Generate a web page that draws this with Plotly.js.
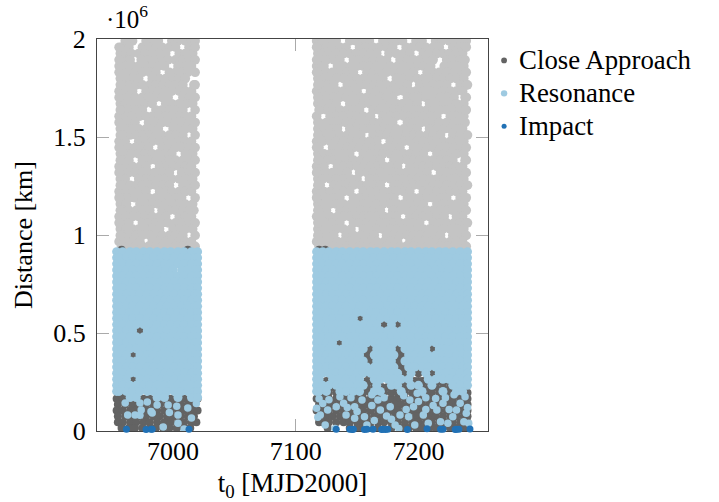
<!DOCTYPE html>
<html><head><meta charset="utf-8">
<script src="https://cdn.plot.ly/plotly-3.0.0.min.js"></script>
<style>html,body{margin:0;padding:0;background:#fff}</style></head>
<body><div id="chart" style="width:719px;height:502px"></div>
<script>
// Values. The dense clouds cannot be read point by point,
// so interior points are approximations of local density; the sparse low points and impacts are read individually.
// Each row: [distance in 10^6 km, t0, t0, ...]
const outsideRows = [
[1.99,6961,6967,6978,6983,6988,6999,7004,7010,7015,7018,7117,7122,7128,7133,7144,7149,7155,7160,7171,7176,7182,7187,7198,7203,7214,7219,7225,7230,7235,7239],
[1.958,6958,6964,6975,6980,6986,6991,6997,7002,7013,7017,7119,7125,7130,7136,7141,7152,7157,7163,7168,7174,7179,7190,7195,7201,7206,7212,7217,7228,7233,7238],
[1.926,6957,6962,6966,6972,6977,6983,6989,6994,7005,7010,7016,7118,7122,7127,7133,7139,7144,7149,7155,7161,7166,7176,7182,7188,7193,7204,7209,7215,7220,7225,7231,7236],
[1.894,6959,6965,6974,6980,6985,6991,6996,7002,7008,7013,7018,7120,7125,7131,7136,7147,7152,7158,7163,7169,7174,7185,7191,7196,7201,7207,7212,7223,7228,7234,7238],
[1.862,6956,6961,6967,6972,6978,6983,6988,6993,7004,7010,7015,7117,7123,7134,7139,7145,7150,7155,7160,7166,7172,7177,7183,7188,7193,7199,7204,7210,7221,7226,7231,7237],
[1.83,6958,6964,6969,6975,6981,6986,6997,7002,7007,7012,7018,7119,7125,7130,7136,7142,7147,7158,7163,7168,7174,7180,7185,7190,7196,7207,7212,7217,7223,7229,7234,7239],
[1.798,6957,6962,6967,6972,6983,6989,6994,7000,7005,7010,7118,7123,7128,7133,7139,7145,7150,7155,7161,7166,7171,7182,7188,7193,7199,7204,7209,7215,7220,7226,7231,7237],
[1.766,6959,6965,6970,6975,6981,6986,6992,6997,7002,7008,7017,7120,7126,7131,7142,7147,7153,7158,7164,7169,7174,7180,7185,7191,7201,7207,7212,7218,7223,7234,7239],
[1.734,6956,6962,6967,6978,6983,6988,6994,6999,7005,7010,7015,7117,7123,7128,7134,7139,7144,7150,7161,7166,7172,7177,7183,7188,7193,7198,7204,7209,7215,7220,7226,7231,7236],
[1.702,6958,6964,6969,6975,6980,6986,6991,6996,7008,7013,7018,7120,7125,7131,7136,7141,7147,7153,7158,7163,7169,7174,7179,7191,7196,7201,7206,7212,7218,7223,7229,7239],
[1.67,6957,6961,6966,6972,6977,6983,6994,6999,7005,7011,7016,7118,7122,7128,7133,7144,7150,7155,7160,7166,7171,7177,7182,7187,7193,7199,7209,7215,7221,7226,7231,7237],
[1.638,6959,6964,6970,6975,6986,6991,6997,7002,7008,7018,7120,7125,7130,7136,7142,7147,7152,7163,7168,7174,7180,7185,7190,7196,7201,7207,7212,7218,7223,7228,7234,7239],
[1.606,6956,6962,6967,6973,6978,6983,6989,6994,6999,7005,7010,7015,7117,7128,7133,7139,7145,7150,7155,7161,7171,7177,7182,7188,7193,7198,7204,7210,7215,7226,7231,7237],
[1.574,6958,6964,6969,6980,6985,6991,6996,7002,7007,7013,7017,7119,7125,7131,7136,7141,7147,7152,7158,7164,7169,7174,7179,7191,7196,7202,7207,7212,7217,7223,7229,7234,7238],
[1.542,6957,6962,6967,6972,6978,6983,6988,7000,7005,7010,7016,7118,7123,7128,7134,7144,7150,7156,7161,7166,7172,7177,7182,7188,7194,7199,7209,7215,7221,7226,7231,7236],
[1.51,6959,6965,6970,6975,6981,6986,6991,6997,7002,7008,7018,7120,7125,7131,7136,7142,7147,7153,7163,7169,7174,7180,7185,7190,7196,7201,7207,7212,7218,7228,7234,7239],
[1.478,6956,6961,6972,6978,6983,6989,6994,6999,7004,7010,7015,7117,7122,7128,7133,7139,7145,7150,7155,7160,7166,7177,7183,7188,7193,7199,7204,7210,7215,7220,7226,7232,7237],
[1.446,6958,6964,6969,6975,6980,6991,6996,7002,7007,7013,7017,7119,7130,7136,7142,7147,7152,7158,7163,7168,7174,7180,7185,7196,7202,7207,7212,7218,7223,7229,7234,7239],
[1.414,6957,6962,6966,6972,6977,6983,6988,6994,6999,7010,7016,7118,7123,7128,7133,7139,7144,7155,7161,7166,7171,7177,7182,7188,7193,7198,7204,7215,7221,7226,7231,7237],
[1.382,6959,6964,6975,6981,6986,6991,6997,7002,7008,7013,7018,7120,7126,7131,7136,7141,7147,7153,7158,7164,7169,7180,7185,7191,7196,7201,7207,7212,7218,7223,7228,7239],
[1.35,6956,6962,6967,6973,6978,6989,6994,7000,7005,7010,7015,7117,7123,7134,7139,7144,7150,7156,7161,7166,7172,7177,7183,7193,7199,7204,7209,7215,7220,7226,7231,7236],
[1.318,6958,6964,6969,6975,6980,6985,6991,6997,7007,7013,7018,7119,7125,7130,7136,7142,7152,7158,7163,7169,7174,7179,7185,7190,7196,7202,7207,7218,7223,7229,7234,7239],
[1.286,6957,6961,6972,6978,6983,6988,6994,6999,7005,7010,7016,7118,7122,7128,7133,7139,7145,7150,7160,7166,7171,7177,7182,7188,7194,7199,7204,7210,7215,7221,7226,7231,7237],
[1.254,6959,6965,6970,6975,6981,6986,6992,6997,7008,7013,7017,7120,7131,7136,7141,7147,7153,7158,7164,7169,7180,7185,7190,7196,7201,7207,7212,7217,7223,7228,7234,7239],
[1.222,6956,6962,6967,6972,6978,6989,6994,6999,7005,7010,7015,7117,7123,7128,7134,7139,7144,7155,7161,7166,7172,7177,7182,7188,7193,7204,7209,7215,7220,7226,7231,7236],
[1.19,6958,6964,6969,6975,6980,6986,6991,6997,7002,7007,7018,7119,7125,7130,7136,7147,7152,7158,7163,7168,7174,7180,7191,7196,7201,7207,7212,7218,7223,7234,7239],
[1.158,6957,6962,6973,6978,6983,6988,6994,7000,7005,7010,7016,7118,7123,7128,7133,7139,7145,7150,7155,7161,7166,7171,7177,7183,7188,7193,7199,7204,7215,7220,7226,7231,7237],
[1.126,6959,6964,6970,6975,6981,6991,6997,7002,7008,7013,7017,7120,7125,7136,7141,7147,7153,7158,7163,7169,7179,7185,7190,7196,7202,7207,7212,7218,7223,7228,7234,7239],
[1.094,6956,6961,6967,6972,6977,6983,6989,6994,7005,7010,7015,7117,7122,7128,7134,7139,7144,7150,7155,7160,7166,7172,7177,7182,7193,7198,7204,7209,7215,7221,7231,7236],
[1.062,6958,6964,6975,6980,6986,6991,6996,7002,7007,7013,7018,7119,7125,7130,7136,7147,7152,7158,7163,7169,7174,7180,7185,7190,7196,7201,7212,7218,7223,7229,7234,7239],
[1.03,6957,6962,6967,6972,6978,6983,6989,7000,7005,7010,7016,7118,7123,7128,7133,7139,7145,7155,7161,7166,7171,7177,7182,7188,7193,7199,7204,7209,7215,7220,7226,7231,7237],
[0.998,6959,6965,6970,6975,6981,6986,6991,6997,7002,7008,7018,7120,7125,7131,7141,7147,7153,7158,7164,7174,7180,7185,7191,7196,7201,7207,7212,7218,7228,7234,7239],
[0.966,6956,6962,6967,6973,6983,6988,6994,6999,7005,7010,7015,7117,7123,7128,7134,7139,7144,7150,7156,7161,7166,7172,7177,7183,7193,7198,7204,7210,7215,7220,7226,7231,7236],
[0.942,6958,6964,6969,6975,6980,6986,6991,6996,7002,7007,7013,7018,7119,7125,7130,7136,7142,7147,7152,7158,7163,7168,7174,7180,7185,7190,7196,7202,7207,7212,7218,7223,7229,7234,7239],
[1.958,6956,7018,7117,7239],[1.894,6956,7117],[1.83,6956,7117],[1.766,6957,7018,7118,7240],[1.702,6956,7118,7238],[1.638,6957,7119,7238],[1.574,6956,7018,7118],[1.51,6957,7118,7240],[1.446,6956,7018,7117],[1.382,6957,7118,7238],[1.318,6956,7117],[1.254,6957,7018,7118,7240],[1.19,6956,7117,7238],[1.126,6957,7118],[1.062,6956,7118,7240],[0.998,6957,7118]
];
const closeRows = [
[0.165,6954,6959,6965,6970,6976,6981,6987,6993,6998,7004,7009,7015,7020,7117,7122,7127,7133,7139,7144,7150,7155,7161,7167,7172,7178,7183,7189,7195,7200,7206,7211,7217,7223,7228,7234,7240],
[0.135,6955,6961,6967,6972,6978,6984,6989,6995,7000,7006,7012,7017,7119,7125,7130,7136,7142,7147,7153,7158,7164,7170,7175,7181,7186,7192,7198,7203,7209,7214,7220,7226,7231,7237,7240],
[0.105,6954,6959,6965,6970,6976,6981,6987,6993,6998,7004,7009,7015,7020,7117,7122,7127,7133,7139,7144,7150,7155,7161,7167,7172,7178,7183,7189,7195,7200,7206,7211,7217,7223,7228,7234,7240],
[0.075,6955,6961,6967,6972,6978,6984,6989,6995,7000,7006,7012,7017,7119,7125,7130,7136,7142,7147,7153,7158,7164,7170,7175,7181,7186,7192,7198,7203,7209,7214,7220,7226,7231,7237,7240],
[0.045,6955,6959,6965,6970,6976,6981,6987,6993,6998,7004,7009,7015,7019,7119,7122,7127,7133,7139,7144,7150,7155,7161,7167,7172,7178,7183,7189,7195,7200,7206,7211,7217,7223,7228,7234,7240],
[0.015,6958,6964,6969,6975,6981,6986,6992,6997,7003,7009,7014,7126,7144,7150,7155,7161,7167,7178,7186,7192,7198,7203,7209,7214,7220,7226,7231,7237,7240],
[0.195,6955,6961,7018,7118,7122,7127,7133,7139,7144,7150,7155,7161,7167,7172,7178,7183,7189,7195,7200,7206,7211,7217,7223,7228,7234,7240],
[0.225,7119,7125,7130,7136,7142,7147,7153,7158,7164,7170,7175,7181,7186,7192,7198,7203,7209,7214,7220,7226,7231,7237],
[0.255,7125,7158,7161,7189,7197,7200,7203,7206,7211,7217,7222],
[0.295,7158,7189,7200,7211],
[0.326,7186],[0.357,7161,7183],[0.388,7158,7186,6967],[0.419,7161,7183,7211],
[0.45,7136],[0.512,6973],[0.543,7172,7183],[0.574,7152],
[0.925,6958,7012,7119,7124],[0.822,6997],[0.264,6967]
];
const resonanceRows = [
[0.915,6954,6959,6965,6970,6976,6981,6987,6993,6998,7004,7009,7015,7020,7117,7122,7127,7133,7138,7144,7150,7155,7161,7166,7172,7178,7183,7189,7194,7200,7206,7211,7217,7222,7228,7234,7240],
[0.884,6954,6956,6962,6967,6973,6979,6984,6990,6995,7001,7007,7012,7018,7020,7117,7119,7125,7130,7136,7141,7147,7152,7158,7164,7169,7175,7180,7186,7192,7197,7203,7208,7214,7220,7225,7231,7236,7240],
[0.853,6954,6959,6965,6970,6976,6981,6987,6993,6998,7004,7009,7015,7020,7117,7122,7127,7133,7138,7144,7150,7155,7161,7166,7172,7178,7183,7189,7194,7200,7206,7211,7217,7222,7228,7234,7240],
[0.822,6954,6956,6962,6967,6973,6979,6984,6990,6994,7000,7007,7012,7018,7020,7117,7119,7125,7130,7136,7141,7147,7152,7158,7164,7169,7175,7180,7186,7192,7197,7203,7208,7214,7220,7225,7231,7236,7240],
[0.791,6954,6959,6965,6970,6976,6981,6987,6993,6998,7004,7009,7015,7020,7117,7122,7127,7133,7138,7144,7150,7155,7161,7166,7172,7178,7183,7189,7194,7200,7206,7211,7217,7222,7228,7234,7240],
[0.76,6954,6956,6962,6967,6973,6979,6984,6990,6995,7001,7007,7012,7018,7020,7117,7119,7125,7130,7136,7141,7147,7152,7158,7164,7169,7175,7180,7186,7192,7197,7203,7208,7214,7220,7225,7231,7236,7240],
[0.729,6954,6959,6965,6970,6976,6981,6987,6993,6998,7004,7009,7015,7020,7117,7122,7127,7133,7138,7144,7150,7155,7161,7166,7172,7178,7183,7189,7194,7200,7206,7211,7217,7222,7228,7234,7240],
[0.698,6954,6956,6962,6967,6973,6979,6984,6990,6995,7001,7007,7012,7018,7020,7117,7119,7125,7130,7136,7141,7147,7152,7158,7164,7169,7175,7180,7186,7192,7197,7203,7208,7214,7220,7225,7231,7236,7240],
[0.667,6954,6959,6965,6970,6976,6981,6987,6993,6998,7004,7009,7015,7020,7117,7122,7127,7133,7138,7144,7150,7155,7161,7166,7172,7178,7183,7189,7194,7200,7206,7211,7217,7222,7228,7234,7240],
[0.636,6954,6956,6962,6967,6973,6979,6984,6990,6995,7001,7007,7012,7018,7020,7117,7119,7125,7130,7136,7141,7147,7152,7158,7164,7169,7175,7180,7186,7192,7197,7203,7208,7214,7220,7225,7231,7236,7240],
[0.605,6954,6959,6965,6970,6976,6981,6987,6993,6998,7004,7009,7015,7020,7117,7122,7127,7133,7138,7144,7150,7155,7161,7166,7172,7178,7183,7189,7194,7200,7206,7211,7217,7222,7228,7234,7240],
[0.574,6954,6956,6962,6967,6973,6979,6984,6990,6995,7001,7007,7012,7018,7020,7117,7119,7125,7130,7136,7141,7147,7158,7164,7169,7175,7180,7186,7192,7197,7203,7208,7214,7220,7225,7231,7236,7240],
[0.543,6954,6959,6965,6970,6976,6981,6987,6993,6998,7004,7009,7015,7020,7117,7122,7127,7133,7138,7144,7150,7155,7161,7166,7178,7189,7194,7200,7206,7211,7217,7222,7228,7234,7240],
[0.512,6954,6956,6962,6967,6979,6984,6990,6995,7001,7007,7012,7018,7020,7117,7119,7125,7130,7136,7141,7147,7152,7158,7164,7169,7175,7180,7186,7192,7197,7203,7208,7214,7220,7225,7231,7236,7240],
[0.481,6954,6959,6965,6970,6976,6981,6987,6993,6998,7004,7009,7015,7020,7117,7122,7127,7133,7138,7144,7150,7155,7161,7166,7172,7178,7183,7189,7194,7200,7206,7211,7217,7222,7228,7234,7240],
[0.45,6954,6956,6962,6967,6973,6979,6984,6990,6995,7001,7007,7012,7018,7020,7117,7119,7125,7130,7141,7147,7152,7158,7164,7169,7175,7180,7186,7192,7197,7203,7208,7214,7220,7225,7231,7236,7240],
[0.419,6954,6959,6965,6970,6976,6981,6987,6993,6998,7004,7009,7015,7020,7117,7122,7127,7133,7138,7144,7150,7155,7166,7172,7178,7189,7194,7200,7206,7217,7222,7228,7234,7240],
[0.388,6954,6956,6962,6973,6979,6984,6990,6995,7001,7007,7012,7018,7020,7117,7119,7125,7130,7136,7141,7147,7152,7164,7169,7175,7180,7192,7197,7203,7208,7214,7220,7225,7231,7236,7240],
[0.357,6954,6959,6965,6970,6976,6981,6987,6993,6998,7004,7009,7015,7020,7117,7122,7127,7133,7138,7144,7150,7155,7166,7172,7178,7189,7194,7200,7206,7211,7217,7222,7228,7234,7240],
[0.326,6954,6956,6962,6967,6973,6979,6984,6990,6995,7001,7007,7012,7018,7020,7117,7119,7125,7130,7136,7141,7147,7152,7158,7164,7169,7175,7180,7192,7197,7203,7208,7214,7220,7225,7231,7236,7240],
[0.295,6954,6959,6965,6970,6976,6981,6987,6993,6998,7004,7009,7015,7020,7117,7122,7127,7133,7138,7144,7150,7155,7161,7166,7172,7178,7183,7194,7206,7217,7222,7228,7234,7240],
[0.264,6954,6956,6962,6973,6979,6984,6990,6995,7001,7007,7012,7018,7020,7117,7119,7130,7136,7141,7147,7152,7164,7169,7175,7180,7186,7192,7208,7214,7220,7225,7231,7236,7240],
[0.233,6954,6959,6965,6970,6976,6981,6987,6993,6998,7004,7009,7015,7020,7117,7122,7127,7133,7138,7144,7150,7155,7166,7178,7183,7194,7200,7211,7228,7234,7240],
[0.202,6954,6956,6962,6967,6973,6979,6984,6990,6995,7001,7007,7012,7018,7020,7117,7119,7125,7136,7141,7147,7152,7164,7169,7186,7203,7220,7231,7236],
[0.171,6965,6970,6987,6993,7004,7015,7020]
];
const resonanceLowX = [6961,6963,6969,6973,6974,6983,6982,6997,7004,7015,7004,6992,7009,7019,7012,7003,6996,6987,6979,6973,
7117,7120,7124,7132,7126,7133,7139,7141,7148,7148,7154,7156,7158,7164,7167,7169,7174,7177,7181,7184,7185,7192,7193,7196,7199,7200,7204,7208,7214,7215,7218,7224,7220,7228,7231,7234,7239,7241,7237,7197,
7119,7127,7136,7145,7162,7172,7188,7206,7222,7229,7238,7118,7150,7178,7206,7162,7122,7142,7212,7225,7240,7190];
const resonanceLowY = [0.143,0.082,0.082,0.08,0.107,0.092,0.1,0.094,0.082,0.066,0.04,0.02,0.01,0.14,0.117,0.126,0.133,0.133,0.148,0.143,
0.116,0.082,0.03,0.013,0.107,0.124,0.141,0.082,0.065,0.124,0.158,0.073,0.03,0.053,0.158,0.107,0.076,0.124,0.03,0.013,0.082,0.073,0.158,0.124,0.192,0.15,0.082,0.039,0.166,0.107,0.047,0.039,0.141,0.073,0.107,0.141,0.09,0.039,0.047,0.03,
0.165,0.16,0.175,0.17,0.185,0.17,0.18,0.17,0.17,0.185,0.175,0.07,0.1,0.06,0.11,0.13,0.14,0.12,0.13,0.11,0.12,0.11];
const impactX = [6962,6978,6982,6983,7013,7133,7144,7146,7147,7156,7158,7163,7170,7171,7173,7175,7191,7207,7218,7220,7230,7231,7233,7242];
const impactY = [0.009,0.008,0.009,0.009,0.009,0.009,0.009,0.008,0.009,0.008,0.009,0.009,0.008,0.009,0.008,0.009,0.008,0.011,0.009,0.009,0.008,0.009,0.009,0.01];
const xTicks = [7000,7100,7200];
const yTicks = [0,0.5,1,1.5,2];
const yTickLabels = ['0','0.5','1','1.5','2'];

function flat(rows){const x=[],y=[];rows.forEach(r=>{for(let i=1;i<r.length;i++){x.push(r[i]);y.push(r[0]);}});return {x,y};}
const out=flat(outsideRows), close=flat(closeRows), res=flat(resonanceRows);
const serif='"Liberation Serif","Times New Roman",serif';
const ax={showgrid:false,zeroline:false,showline:true,linecolor:'#444',linewidth:1,mirror:'ticks',ticks:'inside',ticklen:12,tickwidth:1,tickcolor:'#aaa',layer:'below traces',tickfont:{family:serif,size:26,color:'#000'},automargin:false};
const traces=[
{x:out.x,y:out.y,type:'scatter',mode:'markers',showlegend:false,hoverinfo:'skip',marker:{color:'#c4c4c4',size:9.6}},
{x:close.x,y:close.y,type:'scatter',mode:'markers',name:'Close Approach',marker:{color:'#636363',size:8}},
{x:res.x.concat(resonanceLowX),y:res.y.concat(resonanceLowY),type:'scatter',mode:'markers',name:'Resonance',marker:{color:'#9ecae1',opacity:1,line:{width:0},size:res.x.map(()=>9).concat(resonanceLowX.map(()=>7.5))}},
{x:impactX,y:impactY,type:'scatter',mode:'markers',name:'Impact',cliponaxis:false,marker:{color:'#2171b5',size:7}}
];
const layout={width:719,height:502,paper_bgcolor:'#fff',plot_bgcolor:'#fff',showlegend:true,
margin:{l:97,r:231,t:39,b:71,pad:0},
xaxis:Object.assign({},ax,{range:[6938,7256.7],tickvals:xTicks,ticktext:xTicks.map(String),ticklabelstandoff:-3,title:{text:'t<sub>0</sub> [MJD2000]',font:{family:serif,size:27,color:'#000'},standoff:16}}),
yaxis:Object.assign({},ax,{range:[0,2],tickvals:yTicks,ticktext:yTickLabels,ticklabelstandoff:5,title:{text:'Distance [km]',font:{family:serif,size:26,color:'#000'},standoff:13}}),
legend:{x:0.99,y:1.0,xanchor:'left',yanchor:'top',bgcolor:'rgba(0,0,0,0)',borderwidth:0,itemsizing:'trace',font:{family:serif,size:23,color:'#000'},itemwidth:30},
annotations:[{xref:'paper',yref:'paper',x:0.018,y:1.01,xanchor:'left',yanchor:'bottom',showarrow:false,text:'·10<sup>6</sup>',font:{family:serif,size:25,color:'#000'}}]
};
Plotly.newPlot('chart',traces,layout,{displayModeBar:false,staticPlot:true}).then(()=>{
  // Row pitch of the reference legend is tighter than Plotly's for this glyph size.
  document.querySelectorAll('.legend .scrollbox').forEach(s=>s.removeAttribute('clip-path'));
  document.querySelectorAll('.legend .legendtext').forEach(t=>{t.style.fontSize='26.8px';t.setAttribute('x','35');});
  document.querySelectorAll('.legend .scatterpts').forEach(p=>{p.setAttribute('transform',(p.getAttribute('transform')||'')+' scale(0.72)');});
});
</script></body></html>
